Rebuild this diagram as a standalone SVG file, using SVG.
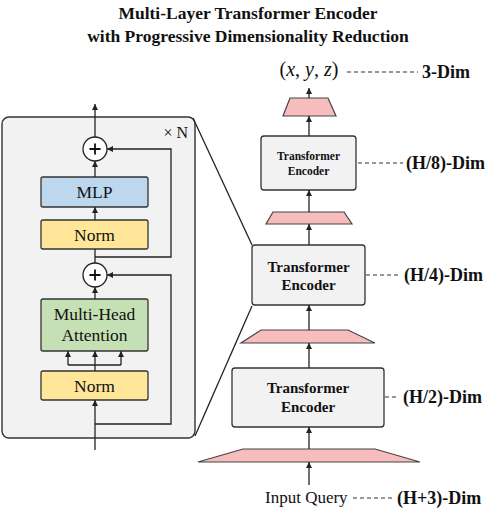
<svg xmlns="http://www.w3.org/2000/svg" width="493" height="510" viewBox="0 0 493 510" font-family="'Liberation Serif', 'Times New Roman', serif">
<defs>
<marker id="arr" markerUnits="userSpaceOnUse" markerWidth="6" markerHeight="6" refX="6" refY="3" orient="auto">
<path d="M0,0 L6,3 L0,6 z" fill="#222"/>
</marker>
<style>
.t{fill:#111}
.b{font-weight:bold}
.ln{fill:none;stroke:#222;stroke-width:1.3}
.ar{fill:none;stroke:#222;stroke-width:1.3;marker-end:url(#arr)}
.ds{fill:none;stroke:#333;stroke-width:1.2;stroke-dasharray:4,3}
.box{stroke:#333;stroke-width:1.3}
.enc{fill:#f2f2f2;stroke:#333;stroke-width:1.3}
.trap{fill:#f7bcbc;stroke:#444;stroke-width:1.2}
</style>
</defs>
<rect width="493" height="510" fill="#fff"/>

<g id="title">
<text class="t b" x="248" y="19" font-size="17.5" text-anchor="middle">Multi-Layer Transformer Encoder</text>
<text class="t b" x="248" y="42" font-size="17.5" text-anchor="middle">with Progressive Dimensionality Reduction</text>
</g>

<g id="panel">
<rect x="2" y="117" width="193" height="321" rx="7" fill="#f2f2f2" stroke="#333" stroke-width="1.4"/>
<text class="t" x="188" y="138" font-size="16" text-anchor="end">× N</text>
</g>

<g id="add1">
<circle cx="95" cy="149" r="12" fill="#fff" stroke="#222" stroke-width="1.3"/>
<path d="M89.5,149 H100.5 M95,143.5 V154.5" stroke="#111" stroke-width="1.8"/>
</g>
<g id="mlp">
<rect class="box" x="41" y="177" width="107" height="30" rx="2" fill="#bdd7ee"/>
<text class="t" x="94.5" y="198" font-size="17.5" text-anchor="middle">MLP</text>
</g>
<g id="norm2">
<rect class="box" x="41" y="220" width="107" height="29" rx="2" fill="#ffe699"/>
<text class="t" x="94.5" y="241" font-size="17.5" text-anchor="middle">Norm</text>
</g>
<g id="add2">
<circle cx="95" cy="275" r="12" fill="#fff" stroke="#222" stroke-width="1.3"/>
<path d="M89.5,275 H100.5 M95,269.5 V280.5" stroke="#111" stroke-width="1.8"/>
</g>
<g id="mha">
<rect class="box" x="41" y="299" width="107" height="52" rx="2" fill="#c5e0b4"/>
<text class="t" x="94.5" y="320" font-size="17.5" text-anchor="middle">Multi-Head</text>
<text class="t" x="94.5" y="341" font-size="17.5" text-anchor="middle">Attention</text>
</g>
<g id="norm1">
<rect class="box" x="41" y="371" width="107" height="29" rx="2" fill="#ffe699"/>
<text class="t" x="94.5" y="392" font-size="17.5" text-anchor="middle">Norm</text>
</g>

<g id="enc1">
<rect class="enc" x="261" y="136" width="95" height="54" rx="3"/>
<text class="t b" x="308.5" y="160" font-size="11.5" text-anchor="middle">Transformer</text>
<text class="t b" x="308.5" y="175" font-size="11.5" text-anchor="middle">Encoder</text>
</g>
<g id="enc2">
<rect class="enc" x="252" y="245" width="113" height="60" rx="3"/>
<text class="t b" x="308.5" y="272" font-size="15" text-anchor="middle">Transformer</text>
<text class="t b" x="308.5" y="290" font-size="15" text-anchor="middle">Encoder</text>
</g>
<g id="enc3">
<rect class="enc" x="232" y="368" width="152" height="59" rx="3"/>
<text class="t b" x="308" y="393" font-size="15" text-anchor="middle">Transformer</text>
<text class="t b" x="308" y="412" font-size="15" text-anchor="middle">Encoder</text>
</g>

<g id="proj1"><polygon class="trap" points="290,98 328,98 336,116 283,116"/></g>
<g id="proj2"><polygon class="trap" points="273,212 344,212 352,224 266,224"/></g>
<g id="proj3"><polygon class="trap" points="261,330 348,330 375,343 241,343"/></g>
<g id="proj4"><polygon class="trap" points="243,449 375,449 420,462 198,462"/></g>

<g id="output">
<text class="t" x="309" y="76" font-size="20" text-anchor="middle">(<tspan font-style="italic">x</tspan>, <tspan font-style="italic">y</tspan>, <tspan font-style="italic">z</tspan>)</text>
</g>
<g id="input">
<text class="t" x="265" y="503" font-size="17">Input Query</text>
</g>

<g id="dims">
<text class="t b" x="422" y="78" font-size="18">3-Dim</text>
<text class="t b" x="406" y="169" font-size="18">(H/8)-Dim</text>
<text class="t b" x="404" y="281" font-size="18">(H/4)-Dim</text>
<text class="t b" x="403" y="403" font-size="18">(H/2)-Dim</text>
<text class="t b" x="397" y="504" font-size="18">(H+3)-Dim</text>
</g>

<g id="connectors">
<line class="ar" x1="95" y1="137" x2="95" y2="104"/>
<line class="ar" x1="95" y1="177" x2="95" y2="161"/>
<line class="ar" x1="95" y1="220" x2="95" y2="207"/>
<line class="ln" x1="95" y1="263" x2="95" y2="249"/>
<line class="ar" x1="95" y1="299" x2="95" y2="287"/>
<line class="ar" x1="95" y1="371" x2="95" y2="351"/>
<polyline class="ln" points="68,365 121,365"/>
<line class="ar" x1="68" y1="365" x2="68" y2="351"/>
<line class="ar" x1="121" y1="365" x2="121" y2="351"/>
<line class="ar" x1="95" y1="450" x2="95" y2="400"/>
<polyline class="ar" points="95,257 171,257 171,149 107,149"/>
<polyline class="ar" points="95,424 171,424 171,275 107,275"/>
<line class="ln" x1="193" y1="118" x2="252" y2="245"/>
<line class="ln" x1="195" y1="436" x2="252" y2="306"/>
<line class="ar" x1="309" y1="485" x2="309" y2="462"/>
<line class="ar" x1="309" y1="449" x2="309" y2="427"/>
<line class="ar" x1="309" y1="368" x2="309" y2="343"/>
<line class="ar" x1="309" y1="330" x2="309" y2="305"/>
<line class="ar" x1="309" y1="245" x2="309" y2="224"/>
<line class="ar" x1="309" y1="212" x2="309" y2="190"/>
<line class="ar" x1="309" y1="136" x2="309" y2="116"/>
<line class="ar" x1="309" y1="98" x2="309" y2="88"/>
<line class="ds" x1="347" y1="72" x2="418" y2="72"/>
<line class="ds" x1="358" y1="163" x2="403" y2="163"/>
<line class="ds" x1="366" y1="275" x2="400" y2="275"/>
<line class="ds" x1="385" y1="397" x2="399" y2="397"/>
<line class="ds" x1="353" y1="498" x2="392" y2="498"/>
</g>
</svg>
